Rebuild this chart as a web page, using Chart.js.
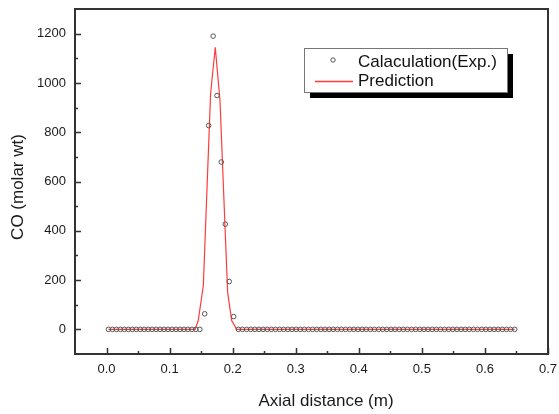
<!DOCTYPE html>
<html>
<head>
<meta charset="utf-8">
<script src="https://cdn.jsdelivr.net/npm/chart.js@4"></script>
<style>
  html, body { margin: 0; padding: 0; background: #fff; }
</style>
</head>
<body>
<canvas id="coChart" width="559" height="414"></canvas>
<script>
// measured points (circles)
const expX = [
  0.003, 0.0093, 0.0156, 0.0219, 0.0282, 0.0345, 0.0408, 0.0471, 0.0534, 0.0597,
  0.066, 0.0723, 0.0786, 0.0849, 0.0912, 0.0975, 0.1038, 0.1101, 0.1164, 0.1227,
  0.129, 0.1353, 0.1416, 0.1479,
  0.1556, 0.1619, 0.169, 0.1751, 0.1819, 0.1883, 0.1946, 0.2016,
  0.209, 0.2155, 0.2221, 0.2286, 0.2352, 0.2417, 0.2482, 0.2548, 0.2613, 0.2679,
  0.2744, 0.2809, 0.2875, 0.294, 0.3006, 0.3071, 0.3136, 0.3202, 0.3267, 0.3333,
  0.3398, 0.3463, 0.3529, 0.3594, 0.366, 0.3725, 0.379, 0.3856, 0.3921, 0.3987,
  0.4052, 0.4117, 0.4183, 0.4248, 0.4314, 0.4379, 0.4444, 0.451, 0.4575, 0.4641,
  0.4706, 0.4771, 0.4837, 0.4902, 0.4968, 0.5033, 0.5098, 0.5164, 0.5229, 0.5295,
  0.536, 0.5425, 0.5491, 0.5556, 0.5622, 0.5687, 0.5752, 0.5818, 0.5883, 0.5949,
  0.6014, 0.6079, 0.6145, 0.621, 0.6276, 0.6341, 0.6406, 0.6472
];
const expY = [
  0, 0, 0, 0, 0, 0, 0, 0, 0, 0,
  0, 0, 0, 0, 0, 0, 0, 0, 0, 0,
  0, 0, 0, 0,
  63, 827, 1190, 949, 679, 427, 194, 52,
  0, 0, 0, 0, 0, 0, 0, 0, 0, 0,
  0, 0, 0, 0, 0, 0, 0, 0, 0, 0,
  0, 0, 0, 0, 0, 0, 0, 0, 0, 0,
  0, 0, 0, 0, 0, 0, 0, 0, 0, 0,
  0, 0, 0, 0, 0, 0, 0, 0, 0, 0,
  0, 0, 0, 0, 0, 0, 0, 0, 0, 0,
  0, 0, 0, 0, 0, 0, 0, 0
];

// model curve (red line)
const predX = [0.003, 0.1405, 0.1454, 0.1535, 0.165, 0.1724, 0.1799, 0.192, 0.1984, 0.2064, 0.6472];
const predY = [0, 0, 36, 178, 956, 1145, 929, 151, 36, 0, 0];

const xTicks = [0, 0.1, 0.2, 0.3, 0.4, 0.5, 0.6, 0.7];
const xMinor = [0.05, 0.15, 0.25, 0.35, 0.45, 0.55, 0.65];
const yTicks = [0, 200, 400, 600, 800, 1000, 1200];
const yMinor = [100, 300, 500, 700, 900, 1100];

const seriesNames = ['Calaculation(Exp.)', 'Prediction'];
const FONT = '"Liberation Sans", Arial, sans-serif';
const INK = '#1a1a1a';
const RED = '#ff3b3b';

// keep the plot box where the reference has it (no label overflow padding)
function noPad(s) {
  s.paddingTop = 0; s.paddingBottom = 0; s.paddingLeft = 0; s.paddingRight = 0;
}

const framePlugin = {
  id: 'frame',
  afterDraw(chart) {
    const { ctx, chartArea: a } = chart;
    const xs = chart.scales.x, ys = chart.scales.y;
    ctx.save();
    ctx.strokeStyle = '#333';
    ctx.lineWidth = 2;
    ctx.strokeRect(a.left, a.top, a.right - a.left, a.bottom - a.top);

    // inward ticks
    ctx.lineWidth = 1.5;
    ctx.beginPath();
    xTicks.forEach(v => { const p = Math.round(xs.getPixelForValue(v)) + 0.5; ctx.moveTo(p, a.bottom); ctx.lineTo(p, a.bottom - 6); });
    xMinor.forEach(v => { const p = Math.round(xs.getPixelForValue(v)) + 0.5; ctx.moveTo(p, a.bottom); ctx.lineTo(p, a.bottom - 3); });
    yTicks.forEach(v => { const p = Math.round(ys.getPixelForValue(v)) + 0.5; ctx.moveTo(a.left, p); ctx.lineTo(a.left + 6, p); });
    yMinor.forEach(v => { const p = Math.round(ys.getPixelForValue(v)) + 0.5; ctx.moveTo(a.left, p); ctx.lineTo(a.left + 3, p); });
    ctx.stroke();

    // axis titles
    ctx.fillStyle = INK;
    ctx.font = '17px ' + FONT;
    ctx.textAlign = 'center';
    ctx.textBaseline = 'middle';
    ctx.fillText('Axial distance (m)', 326, 401);
    ctx.save();
    ctx.translate(18, 187);
    ctx.rotate(-Math.PI / 2);
    ctx.fillText('CO (molar wt)', 0, 0);
    ctx.restore();

    // legend box with shadow
    const bx = 304, by = 48, bw = 203, bh = 44;
    ctx.fillStyle = '#000';
    ctx.fillRect(bx + 6, by + 6, bw, bh);
    ctx.fillStyle = '#fff';
    ctx.fillRect(bx, by, bw, bh);
    ctx.strokeStyle = '#777';
    ctx.lineWidth = 1;
    ctx.strokeRect(bx + 0.5, by + 0.5, bw, bh);

    ctx.strokeStyle = '#555';
    ctx.beginPath();
    ctx.arc(333, 60, 2.2, 0, Math.PI * 2);
    ctx.stroke();
    ctx.strokeStyle = RED;
    ctx.lineWidth = 1.5;
    ctx.beginPath();
    ctx.moveTo(315, 81.5);
    ctx.lineTo(353, 81.5);
    ctx.stroke();

    ctx.fillStyle = '#111';
    ctx.font = '17px ' + FONT;
    ctx.textAlign = 'left';
    ctx.fillText(seriesNames[0], 358, 62);
    ctx.fillText(seriesNames[1], 358, 81);
    ctx.restore();
  }
};

new Chart(document.getElementById('coChart'), {
  type: 'scatter',
  data: {
    datasets: [
      {
        label: seriesNames[0],
        data: expX.map((x, i) => ({ x, y: expY[i] })),
        showLine: false,
        pointRadius: 2.3,
        pointBorderWidth: 1,
        pointBorderColor: '#555',
        pointBackgroundColor: 'rgba(0,0,0,0)'
      },
      {
        label: seriesNames[1],
        data: predX.map((x, i) => ({ x, y: predY[i] })),
        showLine: true,
        borderColor: RED,
        borderWidth: 1.2,
        pointRadius: 0,
        tension: 0
      }
    ]
  },
  options: {
    responsive: false,
    animation: false,
    layout: { autoPadding: false, padding: { top: 9, right: 11, left: 0, bottom: 0 } },
    plugins: { legend: { display: false }, tooltip: { enabled: false } },
    scales: {
      x: {
        type: 'linear',
        min: -0.05,
        max: 0.7,
        afterBuildTicks: s => { s.ticks = xTicks.map(v => ({ value: v })); },
        afterFit: s => { s.height = 60; noPad(s); },
        grid: { display: false, drawTicks: false },
        border: { display: false },
        ticks: { callback: v => v.toFixed(1), color: INK, font: { family: FONT, size: 13 }, padding: 8, maxRotation: 0, autoSkip: false }
      },
      y: {
        min: -100,
        max: 1300,
        afterBuildTicks: s => { s.ticks = yTicks.map(v => ({ value: v })); },
        afterFit: s => { s.width = 75; noPad(s); },
        grid: { display: false, drawTicks: false },
        border: { display: false },
        ticks: { callback: v => String(v), color: INK, font: { family: FONT, size: 13 }, padding: 9, autoSkip: false }
      }
    }
  },
  plugins: [framePlugin]
});
</script>
</body>
</html>
